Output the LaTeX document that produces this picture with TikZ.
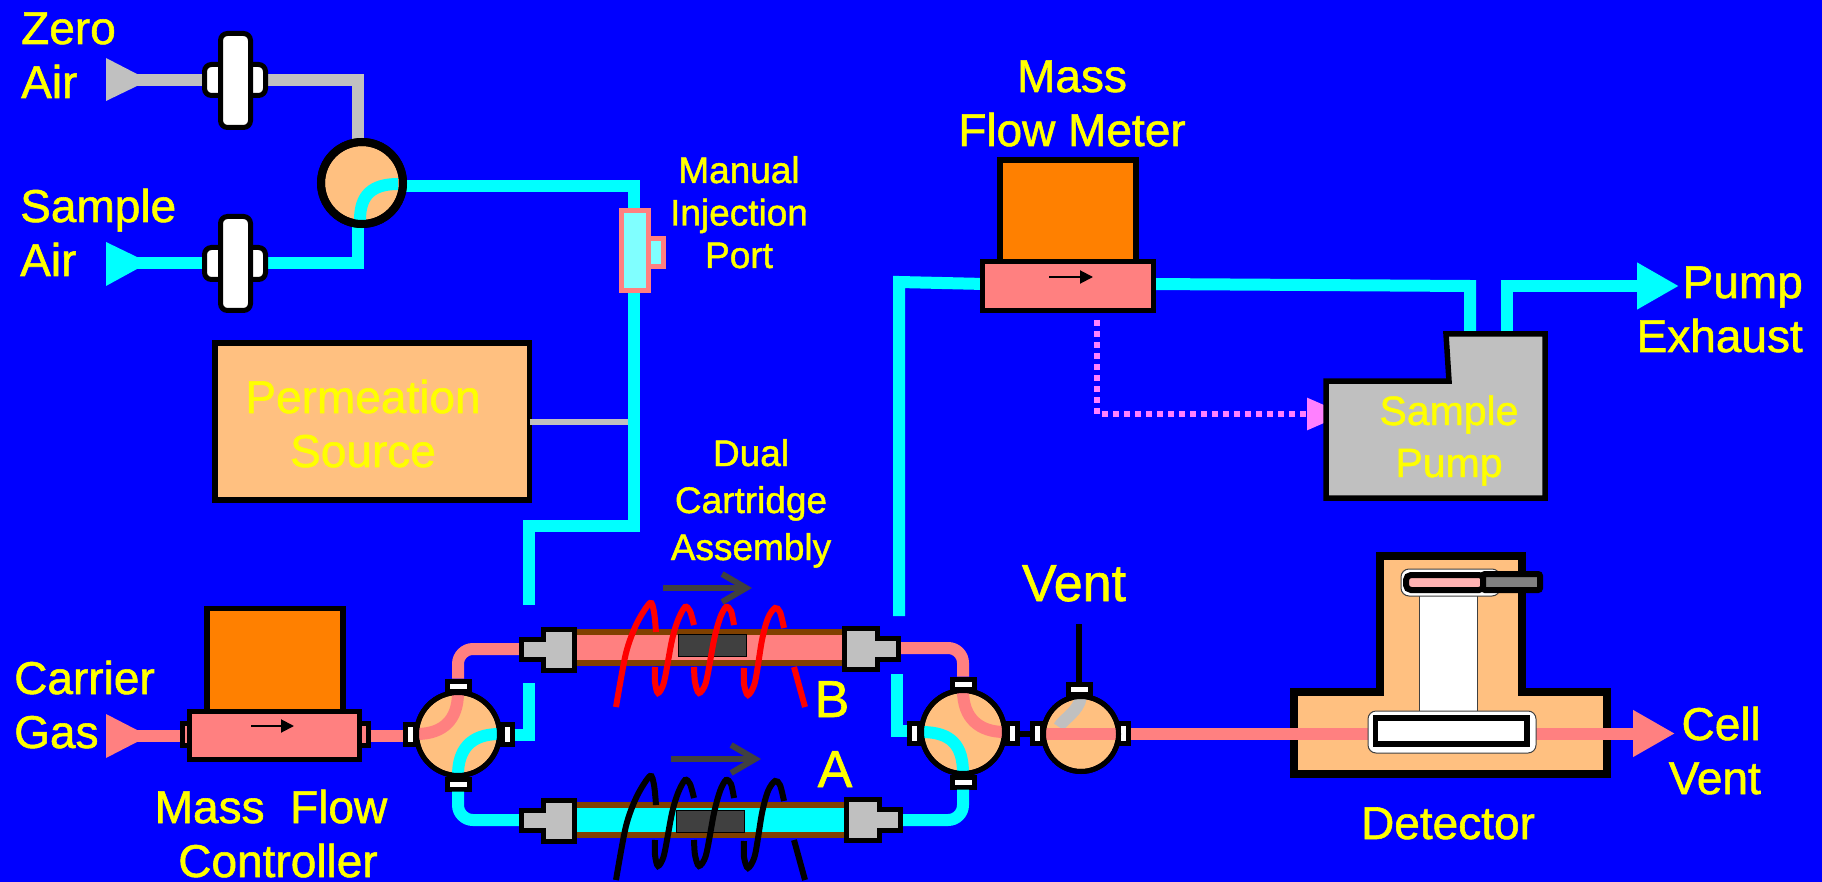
\documentclass[tikz,border=0pt]{standalone}
\usepackage{fontspec}
\setmainfont{Liberation Sans}[RawFeature={embolden=1.2}]
\usetikzlibrary{arrows.meta}
\definecolor{bgblue}{RGB}{0,0,255}
\definecolor{peach}{RGB}{255,192,128}
\definecolor{rosepink}{RGB}{255,128,128}
\definecolor{meterorange}{RGB}{255,128,0}
\definecolor{aircyan}{RGB}{0,255,255}
\definecolor{airgray}{RGB}{192,192,192}
\definecolor{tubebrown}{RGB}{128,64,0}
\definecolor{darkgray}{RGB}{64,64,64}
\definecolor{dotpink}{RGB}{255,128,255}
\definecolor{labelyellow}{RGB}{255,255,0}
\tikzset{
    box/.style={draw=black,line width=5.5pt,inner sep=0pt,outer sep=0pt},
    valve/.style={circle,draw=black,fill=peach,line width=5pt,inner sep=0pt,outer sep=0pt,minimum size=83pt},
    portbox/.style={draw=black,fill=white,line width=5pt,inner sep=0pt,outer sep=2.5pt},
    filterbox/.style={draw=black,fill=white,line width=5pt,inner sep=0pt,rounded corners=7pt},
    pipe/.style={line width=12pt},
    fitting/.style={draw=black,fill=airgray,line width=5pt},
    lab/.style={text=labelyellow,inner sep=0pt,align=center,font=\fontsize{46}{54}\selectfont},
    smalllab/.style={text=labelyellow,inner sep=0pt,align=center,font=\fontsize{37}{42.5}\selectfont},
    biglab/.style={text=labelyellow,inner sep=0pt,font=\fontsize{52}{60}\selectfont},
    bigtip/.style={-{Triangle[length=42pt,width=44pt]}}
}
\begin{document}
\begin{tikzpicture}[x=1pt,y=-1pt]
    \fill[bgblue] (0,0) rectangle (1822,882);
    \useasboundingbox (0,0) rectangle (1822,882);
    \coordinate (zeroin) at (137,80);
    \coordinate (samplein) at (137,263);
    \coordinate (carrierin) at (137,736);
    \coordinate (inlet) at (362,183);
    \coordinate (inletout) at (400,186);
    \coordinate (cartin) at (529,605);
    \coordinate (cartout) at (899,616);
    \coordinate (fitBL) at (521,649);
    \coordinate (fitAL) at (521,820);
    \coordinate (fitBR) at (899,648);
    \coordinate (fitAR) at (899,820);
    \coordinate (mfmin) at (985,284);
    \coordinate (mfmout) at (1150,284);
    \coordinate (pumpin) at (1470,340);
    \coordinate (pumpout) at (1507,340);
    \coordinate (dotstart) at (1097,320);
    \coordinate (ventend) at (1078.5,624);
    \fill[airgray] (106,58) -- (137,74) -- (137,86) -- (106,101) -- cycle;
    \fill[aircyan] (106,242) -- (137,257) -- (137,269) -- (106,286) -- cycle;
    \fill[rosepink] (106,714) -- (137,730) -- (137,742) -- (106,758) -- cycle;
    \node[box,fill=peach,minimum width=314.5pt,minimum height=157pt] (permsrc) at (372.25,421.5) {};
    \draw[line width=6pt,airgray] (permsrc.east) -- (634,421.5);
    \draw[pipe,airgray] (zeroin) -- (358,80) |- (inlet);
    \draw[pipe,aircyan] (samplein) -- (358,263) |- (inlet);
    \draw[pipe,aircyan] (inletout) -- (634,186) -- (634,526) -- (529,526) -- (cartin);
    \node[filterbox,minimum width=61pt,minimum height=31pt] (filtZs) at (235,80) {};
    \node[filterbox,minimum width=30pt,minimum height=94pt] (filtZ) at (235.5,80.5) {};
    \node[filterbox,minimum width=61pt,minimum height=32pt] (filtSs) at (235,263.5) {};
    \node[filterbox,minimum width=30pt,minimum height=94pt] (filtS) at (235.5,263.5) {};
    \node[circle,draw=black,fill=peach,line width=8pt,inner sep=0pt,outer sep=0pt,minimum size=82pt] (inletvalve) at (inlet) {};
    \draw[pipe,aircyan] (360,220) .. controls (360,195) and (372,184) .. (398,184);
    \draw[line width=8pt] (inletvalve) circle[radius=41];
    \node[draw=rosepink,fill=aircyan!50,line width=5pt,inner sep=0pt,outer sep=0pt,minimum width=15pt,minimum height=28pt,anchor=west] (injside) at (648.5,252.5) {};
    \node[draw=rosepink,fill=aircyan!50,line width=5pt,inner sep=0pt,minimum width=27pt,minimum height=80pt] (injport) at (635,250.5) {};
    \node[box,fill=meterorange,minimum width=136pt,minimum height=103pt] (mfcunit) at (275,660) {};
    \node[portbox,fill=rosepink,minimum width=16pt,minimum height=22pt] (mfcl) at (190,734.5) {};
    \node[portbox,fill=rosepink,minimum width=16pt,minimum height=22pt] (mfcr) at (360,734.5) {};
    \node[portbox,minimum width=10pt,minimum height=20pt] (vL-w) at (410,734.5) {};
    \draw[pipe,rosepink] (carrierin) -- (carrierin -| mfcl.west);
    \draw[pipe,rosepink] (carrierin -| mfcr.east) -- (carrierin -| vL-w.west);
    \node[box,line width=5pt,fill=rosepink,minimum width=170pt,minimum height=48pt] (mfc) at (274.5,735.5) {};
    \draw[-{Triangle[length=13pt,width=13pt]},line width=2pt] (251,726) -- (294,726);
    \node[portbox,minimum width=22pt,minimum height=10pt] (vL-n) at (458,686) {};
    \node[portbox,minimum width=22pt,minimum height=10pt] (vL-s) at (458,784) {};
    \node[portbox,minimum width=10pt,minimum height=20pt] (vL-e) at (507,734.5) {};
    \node[portbox,minimum width=22pt,minimum height=10pt] (vR-n) at (963,684) {};
    \node[portbox,minimum width=22pt,minimum height=10pt] (vR-s) at (963,782) {};
    \node[portbox,minimum width=10pt,minimum height=20pt] (vR-w) at (914.5,733.5) {};
    \node[portbox,minimum width=10pt,minimum height=20pt] (vR-e) at (1012,733.5) {};
    \node[portbox,minimum width=10pt,minimum height=20pt] (vent-w) at (1037.5,733.5) {};
    \node[portbox,minimum width=10pt,minimum height=20pt] (vent-e) at (1123.5,733.5) {};
    \node[portbox,minimum width=22pt,minimum height=10pt] (vent-n) at (1079.5,689) {};
    \draw[line width=6pt] (vL-e.east) -- ++(5,0);
    \draw[line width=6pt] (vR-e.east) -- (vent-w.west);
    \draw[line width=6pt] (vent-n.north -| ventend) -- (ventend);
    \draw[pipe,aircyan] (vL-e.east) -| (529,683);
    \draw[pipe,aircyan] (907,731) -- (897,731) -- (897,674);
    \draw[pipe,aircyan] (cartout) -- (899,282) -- (mfmin);
    \draw[pipe,aircyan] (mfmout) -- (1470,286) -- (pumpin);
    \draw[pipe,aircyan,bigtip] (pumpout) -- (1507,286) -- (1679,286);
    \draw[pipe,rosepink,rounded corners=15pt] (vL-n.north) -- (458,649) -- (fitBL);
    \draw[pipe,aircyan,rounded corners=15pt] (vL-s.south) -- (458,820) -- (fitAL);
    \draw[pipe,rosepink,rounded corners=15pt] (fitBR) -- (963,648) -- (vR-n.north);
    \draw[pipe,aircyan,rounded corners=15pt] (fitAR) -- (963,820) -- (vR-s.south);
    \node[valve] (vL) at (458,734) {};
    \node[valve] (vR) at (963,732) {};
    \node[valve,minimum size=75pt] (vent) at (1081,734) {};
    \draw[pipe,rosepink] (vL.north) .. controls +(0,27) and +(27,0) .. (vL.west);
    \draw[pipe,aircyan] (vL.east) .. controls +(-30,0) and +(0,-25) .. (vL.south);
    \draw[pipe,rosepink] (vR.north) .. controls +(0,28) and +(-25,0) .. (vR.east);
    \draw[pipe,aircyan] (vR.west) .. controls +(30,0) and +(0,-28) .. (vR.south);
    \draw[pipe,airgray] (vent.north) .. controls +(-2,15) and +(4,-8) .. (1059,727);
    \draw[pipe,rosepink] (vent.west) -- (vent.east);
    \draw[line width=5pt] (vL) circle[radius=41.5];
    \draw[line width=5pt] (vR) circle[radius=41.5];
    \draw[line width=5pt] (vent) circle[radius=37.5];
    \node[draw=tubebrown,fill=rosepink,line width=6pt,inner sep=0pt,minimum width=280pt,minimum height=31pt] (tubeB) at (710,647.5) {};
    \node[draw=tubebrown,fill=aircyan,line width=6pt,inner sep=0pt,minimum width=280pt,minimum height=30pt] (tubeA) at (710,820) {};
    \node[draw=black,fill=darkgray,line width=1pt,inner sep=0pt,minimum width=68pt,minimum height=22pt] (packB) at (712.5,645) {};
    \node[draw=black,fill=darkgray,line width=1pt,inner sep=0pt,minimum width=68pt,minimum height=22pt] (packA) at (710,821) {};
    \foreach \fy in {649.5,820.5}
        \draw[fitting,shift={(0,\fy)}] (521.5,-10) -- ++(22,0) -- ++(0,-10) -- ++(31,0) -- ++(0,41) -- ++(-31,0) -- ++(0,-11) -- ++(-22,0) -- cycle;
    \foreach \fx/\fy in {844.5/649,846.5/820}
        \draw[fitting,shift={(\fx,\fy)}] (0,-20.5) -- ++(33,0) -- ++(0,10) -- ++(21,0) -- ++(0,21) -- ++(-21,0) -- ++(0,10) -- ++(-33,0) -- cycle;
    \foreach \coilcol/\dy in {red/0,black/173} {
        \begin{scope}[shift={(0,\dy)},line width=6pt,\coilcol]
            \draw plot[smooth] coordinates {(616,707) (626,653) (637,623) (650,603) (654,612) (656,632)};
            \draw plot[smooth] coordinates {(655,667) (655,682) (658,693) (664,682) (672,640) (678,620) (685,607) (690,611) (694,625)};
            \draw plot[smooth] coordinates {(694,667) (695,682) (699,693) (706,682) (714,640) (720,618) (726,607) (731,611) (734,625)};
            \draw plot[smooth] coordinates {(744,668) (744,684) (748,695) (755,682) (762,640) (768,618) (775,608) (780,612) (784,628)};
            \draw (794,667) -- (805,707);
        \end{scope}
    }
    \draw[-{Straight Barb[length=24pt,width=28pt]},line width=6pt,darkgray] (663,588) -- (752,588);
    \draw[-{Straight Barb[length=24pt,width=28pt]},line width=6pt,darkgray] (671,759) -- (761,759);
    \node[box,fill=meterorange,minimum width=136pt,minimum height=102pt] (mfmunit) at (1068,211) {};
    \node[box,line width=5pt,fill=rosepink,minimum width=171pt,minimum height=48.5pt] (mfm) at (1068,286.25) {};
    \draw[-{Triangle[length=13pt,width=13pt]},line width=2pt] (1049,277) -- (1093,277);
    \draw[line width=6pt,dotpink,dash pattern=on 6pt off 5pt,-{Triangle[length=38pt,width=31pt]}] (dotstart) -- (1097,414) -- (1345,414);
    \draw[fill=airgray,line width=5.5pt,draw=black] (1326,381) -- (1449,381) -- (1446,334) -- (1545,334) -- (1545,498) -- (1326,498) -- cycle;
    \draw[fill=peach,draw=black,line width=8pt] (1294,774) -- (1294,692) -- (1379.5,692) -- (1379.5,556) -- (1522,556) -- (1522,692) -- (1607,692) -- (1607,774) -- cycle;
    \node[draw=darkgray,fill=white,line width=1pt,inner sep=0pt,minimum width=58pt,minimum height=117pt] (column) at (1448,653.5) {};
    \draw[pipe,rosepink,bigtip] (vent-e.east) -- (1675,733.5);
    \node[draw=darkgray,fill=white,line width=1pt,inner sep=0pt,rounded corners=8pt,minimum width=168pt,minimum height=42pt] (lowcell) at (1452,732) {};
    \node[draw=black,fill=white,line width=5.5pt,inner sep=0pt,minimum width=151.5pt,minimum height=26pt] (lowframe) at (1451,731) {};
    \node[draw=darkgray,fill=white,line width=1pt,inner sep=0pt,rounded corners=8pt,minimum width=99pt,minimum height=27pt] (topcell) at (1450.5,582.5) {};
    \node[draw=black,fill=rosepink!60!white,line width=6pt,inner sep=0pt,rounded corners=5pt,minimum width=78pt,minimum height=15pt] (lamp) at (1445,582.5) {};
    \node[draw=black,fill=gray,line width=6pt,inner sep=0pt,rounded corners=2pt,minimum width=57pt,minimum height=16pt] (lampend) at (1511.5,582) {};
    \node[lab,anchor=base west,align=left] (lzero) at (21,98) {Zero\\Air};
    \node[lab,anchor=base west,align=left] (lsample) at (20,276) {Sample\\Air};
    \node[lab,anchor=base west,align=left] (lcarrier) at (14,748) {Carrier\\Gas};
    \node[lab,anchor=base] (lmfc) at (278,877) {Mass~~Flow\hspace*{14pt}\\Controller};
    \node[lab,anchor=base] (lperm) at (363,467) {Permeation\\Source};
    \node[smalllab,anchor=base] (lport) at (739,268) {Manual\\Injection\\Port};
    \node[smalllab,anchor=base,font=\fontsize{37}{47}\selectfont] (ldual) at (751,560) {Dual\\Cartridge\\Assembly};
    \node[lab,anchor=base] (lmfm) at (1072,146) {Mass\\Flow Meter};
    \node[lab,anchor=base east,align=right] (lexhaust) at (1803,352) {Pump\\Exhaust};
    \node[lab,anchor=base,font=\fontsize{41}{52}\selectfont] (lpump) at (1449,477) {Sample\\Pump};
    \node[biglab,anchor=base] (lvent) at (1074,601) {Vent};
    \node[biglab,anchor=base] (lb) at (832,717) {B};
    \node[biglab,anchor=base] (la) at (835,787) {A};
    \node[lab,anchor=base] (ldetector) at (1448,839) {Detector};
    \node[lab,anchor=base east,align=right] (lcell) at (1761,794) {Cell\\Vent};
\end{tikzpicture}
\end{document}
